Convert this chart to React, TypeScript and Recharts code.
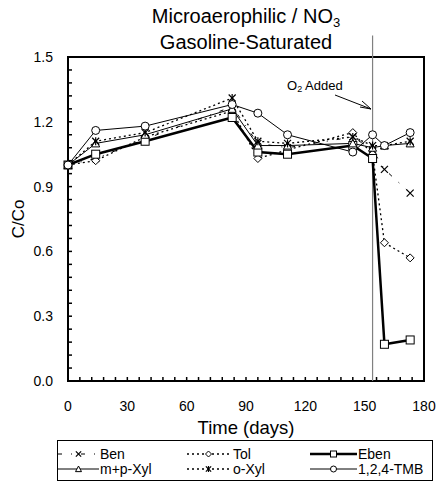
import React from 'react';
import { LineChart, Line, XAxis, YAxis, ReferenceArea, ReferenceLine } from 'recharts';

const days = [0, 14, 39, 83, 96, 111, 144, 154, 160, 173];
const ben = [1.0, 1.03, 1.12, 1.27, 1.1, 1.08, 1.13, 1.07, 0.98, 0.87];
const tol = [1.0, 1.02, 1.13, 1.25, 1.03, 1.07, 1.15, 1.05, 0.64, 0.57];
const eben = [1.0, 1.05, 1.11, 1.22, 1.06, 1.05, 1.09, 1.03, 0.17, 0.19];
const mpXyl = [1.0, 1.1, 1.14, 1.26, 1.09, 1.09, 1.1, 1.08, 1.09, 1.1];
const oXyl = [1.0, 1.11, 1.15, 1.31, 1.11, 1.1, 1.13, 1.09, 1.09, 1.11];
const tmb = [1.0, 1.16, 1.18, 1.28, 1.24, 1.14, 1.06, 1.14, 1.09, 1.15];

const xTicks = [0, 6, 12, 18, 24, 30, 36, 42, 48, 54, 60, 66, 72, 78, 84, 90, 96, 102, 108, 114, 120, 126, 132, 138, 144, 150, 156, 162, 168, 174, 180];
const xLabels = [0, 30, 60, 90, 120, 150, 180];
const yTicks = [0, 0.06, 0.12, 0.18, 0.24, 0.3, 0.36, 0.42, 0.48, 0.54, 0.6, 0.66, 0.72, 0.78, 0.84, 0.9, 0.96, 1.02, 1.08, 1.14, 1.2, 1.26, 1.32, 1.38, 1.44, 1.5];
const yLabels = ['0.0', '0.3', '0.6', '0.9', '1.2', '1.5'];
const o2Day = 154;

type Shape = 'x' | 'diamond' | 'square' | 'triangle' | 'star' | 'circle';

const series: { key: string; name: string; values: number[]; shape: Shape; dash?: string; width: number }[] = [
  { key: 'ben', name: 'Ben', values: ben, shape: 'x', dash: '4 9 1 9', width: 1 },
  { key: 'tol', name: 'Tol', values: tol, shape: 'diamond', dash: '2 3', width: 1.3 },
  { key: 'eben', name: 'Eben', values: eben, shape: 'square', width: 2.5 },
  { key: 'mp', name: 'm+p-Xyl', values: mpXyl, shape: 'triangle', width: 1 },
  { key: 'ox', name: 'o-Xyl', values: oXyl, shape: 'star', dash: '2 3', width: 1.3 },
  { key: 'tmb', name: '1,2,4-TMB', values: tmb, shape: 'circle', width: 1 },
];

const data = days.map((d, i) => {
  const row: Record<string, number> = { day: d };
  series.forEach((s) => {
    row[s.key] = s.values[i];
  });
  return row;
});

const FONT = '"Liberation Sans", Arial, sans-serif';

function Marker({ shape, cx, cy, scale = 1 }: { shape: Shape; cx: number; cy: number; scale?: number }) {
  const sw = 1;
  const k = scale;
  switch (shape) {
    case 'x':
      return (
        <g stroke="#000" strokeWidth={1.2}>
          <line x1={cx - 3.5 * k} y1={cy - 3.5 * k} x2={cx + 3.5 * k} y2={cy + 3.5 * k} />
          <line x1={cx - 3.5 * k} y1={cy + 3.5 * k} x2={cx + 3.5 * k} y2={cy - 3.5 * k} />
        </g>
      );
    case 'diamond':
      return (
        <polygon
          points={`${cx},${cy - 4 * k} ${cx + 4 * k},${cy} ${cx},${cy + 4 * k} ${cx - 4 * k},${cy}`}
          fill="#fff"
          stroke="#000"
          strokeWidth={sw}
        />
      );
    case 'square':
      return <rect x={cx - 4 * k} y={cy - 4 * k} width={8 * k} height={8 * k} fill="#fff" stroke="#000" strokeWidth={sw} />;
    case 'triangle':
      return (
        <polygon
          points={`${cx},${cy - 4 * k} ${cx + 4 * k},${cy + 3.5 * k} ${cx - 4 * k},${cy + 3.5 * k}`}
          fill="#fff"
          stroke="#000"
          strokeWidth={sw}
        />
      );
    case 'star':
      return (
        <g stroke="#000" strokeWidth={1.2}>
          <line x1={cx - 3.5 * k} y1={cy - 3.5 * k} x2={cx + 3.5 * k} y2={cy + 3.5 * k} />
          <line x1={cx - 3.5 * k} y1={cy + 3.5 * k} x2={cx + 3.5 * k} y2={cy - 3.5 * k} />
          <line x1={cx} y1={cy - 4 * k} x2={cx} y2={cy + 4 * k} />
        </g>
      );
    case 'circle':
    default:
      return <circle cx={cx} cy={cy} r={4 * k} fill="#fff" stroke="#000" strokeWidth={sw} />;
  }
}

const legendLineStart = [58, 187, 310];
const legendLineEnd = [99, 230, 357];
const legendTextX = [100, 233, 358];
const legendRows = [454, 469];

export default function App() {
  return (
    <div style={{ position: 'absolute', left: 0, top: 0, width: 436, height: 482, background: '#fff', fontFamily: FONT }}>
      <LineChart width={436} height={482} data={data} margin={{ top: 57, right: 12, bottom: 71, left: 28 }}>
        <XAxis
          dataKey="day"
          type="number"
          domain={[0, 180]}
          ticks={xTicks}
          interval={0}
          axisLine={false}
          tickSize={-4}
          tickMargin={24}
          tickLine={{ stroke: '#000', strokeWidth: 1.5 }}
          tick={{ fill: '#000', fontSize: 14, fontFamily: FONT }}
          tickFormatter={(v: number) => (xLabels.includes(v) ? String(v) : '')}
          height={30}
        />
        <YAxis
          type="number"
          domain={[0, 1.5]}
          ticks={yTicks}
          interval={0}
          axisLine={false}
          tickSize={-4}
          tickMargin={19}
          tickLine={{ stroke: '#000', strokeWidth: 1.5 }}
          tick={{ fill: '#000', fontSize: 14, fontFamily: FONT }}
          tickFormatter={(v: number) => {
            const idx = Math.round(v * 100) / 30;
            return Number.isInteger(idx) ? yLabels[idx] : '';
          }}
          width={40}
        />
        <ReferenceArea x1={0} x2={180} y1={0} y2={1.5} fill="none" stroke="#000" strokeWidth={2} ifOverflow="visible" />
        <ReferenceLine
          segment={[
            { x: o2Day, y: 0 },
            { x: o2Day, y: 1.6 },
          ]}
          stroke="#808080"
          strokeWidth={1.2}
          ifOverflow="visible"
        />
        {series.map((s) => (
          <Line
            key={s.key}
            dataKey={s.key}
            type="linear"
            stroke="#000"
            strokeWidth={s.width}
            strokeDasharray={s.dash}
            isAnimationActive={false}
            legendType="none"
            dot={(p: any) => <Marker key={`${s.key}-${p.index}`} shape={s.shape} cx={p.cx} cy={p.cy} />}
            activeDot={false}
          />
        ))}
      </LineChart>
      <svg width={436} height={482} style={{ position: 'absolute', left: 0, top: 0, pointerEvents: 'none' }}>
        <text x={246} y={23} textAnchor="middle" fontSize={20} fontFamily={FONT}>
          Microaerophilic / NO<tspan fontSize={13} dy={4}>3</tspan>
        </text>
        <text x={246} y={49} textAnchor="middle" fontSize={20} fontFamily={FONT}>
          Gasoline-Saturated
        </text>
        <text x={0} y={0} transform="translate(24,219) rotate(-90)" textAnchor="middle" fontSize={17} fontFamily={FONT}>
          C/Co
        </text>
        <text x={246} y={434} textAnchor="middle" fontSize={18.5} fontFamily={FONT}>
          Time (days)
        </text>
        <text x={287} y={90} fontSize={13} fontFamily={FONT}>
          O<tspan fontSize={9} dy={2}>2</tspan>
          <tspan dy={-2}> Added</tspan>
        </text>
        <line x1={335} y1={95} x2={371} y2={109} stroke="#000" strokeWidth={1} />
        <polyline points="362,101 371,109 360,107" fill="none" stroke="#000" strokeWidth={1} />
        <rect x={57.5} y={440.5} width={375} height={40} fill="none" stroke="#000" strokeWidth={1} />
        {series.map((s, i) => {
          const c = i % 3;
          const row = legendRows[Math.floor(i / 3)];
          const x1 = legendLineStart[c];
          const x2 = legendLineEnd[c];
          const mid = (x1 + x2) / 2;
          return (
            <g key={s.key}>
              <line x1={x1} y1={row} x2={x2} y2={row} stroke="#000" strokeWidth={s.width} strokeDasharray={s.dash} />
              <Marker shape={s.shape} cx={mid} cy={row} scale={0.75} />
              <text x={legendTextX[c]} y={row + 5} fontSize={14} fontFamily={FONT}>
                {s.name}
              </text>
            </g>
          );
        })}
      </svg>
    </div>
  );
}
